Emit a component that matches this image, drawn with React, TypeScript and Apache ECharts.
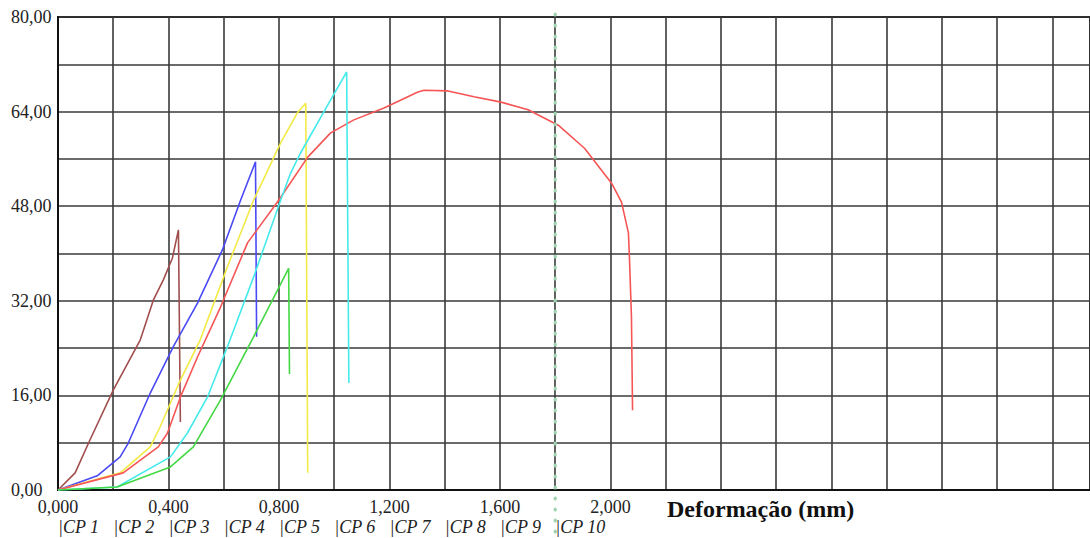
import React, { useEffect, useRef } from "react";
import * as echarts from "echarts";

const cpLabels = ["CP 1", "CP 2", "CP 3", "CP 4", "CP 5", "CP 6", "CP 7", "CP 8", "CP 9", "CP 10"];
const xLabelTicks = [0, 0.4, 0.8, 1.2, 1.6, 2.0];
const yLabelTicks = [0, 16, 32, 48, 64, 80];

const brownData: [number, number][] = [
  [0, 0], [0.062, 2.9], [0.116, 8.5], [0.2, 16.9], [0.298, 25.4], [0.345, 32.1],
  [0.381, 35.5], [0.414, 39.2], [0.436, 44.0], [0.443, 11.5],
];
const blueData: [number, number][] = [
  [0, 0], [0.142, 2.4], [0.225, 5.6], [0.254, 7.9], [0.334, 16.4], [0.417, 24.2],
  [0.505, 31.6], [0.595, 40.6], [0.661, 49.0], [0.715, 55.5], [0.719, 25.9],
];
const yellowData: [number, number][] = [
  [0, 0], [0.225, 2.9], [0.334, 7.3], [0.37, 10.7], [0.443, 18.6], [0.515, 25.4],
  [0.613, 37.7], [0.708, 49.0], [0.806, 58.7], [0.868, 63.9], [0.897, 65.4], [0.904, 2.9],
];
const redData: [number, number][] = [
  [0, 0], [0.236, 2.9], [0.363, 7.3], [0.396, 9.6], [0.443, 15.7], [0.505, 22.5],
  [0.588, 30.9], [0.686, 41.8], [0.799, 49.0], [0.904, 56.3], [0.987, 60.4],
  [1.071, 62.6], [1.18, 64.6], [1.303, 67.3], [1.325, 67.6], [1.412, 67.5],
  [1.506, 66.5], [1.604, 65.6], [1.702, 64.3], [1.811, 61.7], [1.906, 57.8],
  [2.004, 51.9], [2.04, 48.7], [2.065, 43.5], [2.069, 38.9], [2.076, 29.3], [2.08, 13.5],
];
const cyanData: [number, number][] = [
  [0, 0], [0.214, 0.5], [0.407, 5.6], [0.468, 9.6], [0.541, 15.7], [0.613, 24.2],
  [0.708, 36.0], [0.806, 49.0], [0.842, 53.6], [0.878, 57.0], [0.987, 66.0],
  [1.045, 70.7], [1.053, 18.1],
];
const greenData: [number, number][] = [
  [0, 0], [0.214, 0.5], [0.407, 3.9], [0.49, 7.3], [0.588, 15.2], [0.708, 25.9],
  [0.835, 37.5], [0.838, 19.6],
];
const markerX = 1.8;

const serif = '"Liberation Serif", "DejaVu Serif", serif';

export default function App() {
  const ref = useRef<HTMLDivElement>(null);
  useEffect(() => {
    if (!ref.current) return;
    const chart = echarts.init(ref.current, null, { renderer: "svg" });
    const isTick = (v: number, list: number[]) => list.some((t) => Math.abs(t - v) < 1e-6);
    const mkSeries = (name: string, data: [number, number][], color: string) => ({
      name,
      type: "line",
      data,
      showSymbol: false,
      symbol: "none",
      lineStyle: { color, width: 1.6 },
      itemStyle: { color },
      xAxisIndex: 0,
      yAxisIndex: 0,
    });
    chart.setOption({
      animation: false,
      backgroundColor: "#ffffff",
      grid: {
        left: 58, top: 17, right: -3, bottom: 48,
        show: true, borderColor: "#111", borderWidth: 2,
      },
      xAxis: [
        {
          type: "value", min: 0, max: 3.736, interval: 0.2,
          axisLine: { show: true, lineStyle: { color: "#111", width: 2 } },
          axisTick: { show: false },
          splitLine: { show: true, lineStyle: { color: "#3a3a3a", width: 1.6 } },
          axisLabel: {
            show: true, margin: 8, color: "#222", fontFamily: serif, fontSize: 18,
            showMaxLabel: false,
            formatter: (v: number) => (isTick(v, xLabelTicks) ? v.toFixed(3).replace(".", ",") : ""),
          },
        },
        {
          type: "value", min: 0, max: 3.736, interval: 0.2, position: "bottom", offset: 22,
          axisLine: { show: false }, axisTick: { show: false }, splitLine: { show: false },
          axisLabel: {
            show: true, margin: 6, align: "left", color: "#222", fontFamily: serif,
            fontSize: 18, fontStyle: "italic", showMaxLabel: false,
            formatter: (v: number) => {
              const i = Math.round(v / 0.2);
              return Math.abs(i * 0.2 - v) < 1e-6 && i < cpLabels.length ? "|" + cpLabels[i] : "";
            },
          },
        },
      ],
      yAxis: {
        type: "value", min: 0, max: 80, interval: 8,
        axisLine: { show: true, lineStyle: { color: "#111", width: 2 } },
        axisTick: { show: false },
        splitLine: { show: true, lineStyle: { color: "#3a3a3a", width: 1.6 } },
        axisLabel: {
          show: true, margin: 47, align: "left", color: "#222", fontFamily: serif, fontSize: 18,
          formatter: (v: number) => (isTick(v, yLabelTicks) ? v.toFixed(2).replace(".", ",") : ""),
        },
      },
      series: [
        mkSeries("CP 1", brownData, "#a04e4e"),
        mkSeries("CP 2", blueData, "#4a4af5"),
        mkSeries("CP 3", yellowData, "#f2ea46"),
        mkSeries("CP 4", redData, "#f55555"),
        mkSeries("CP 5", cyanData, "#45eaea"),
        mkSeries("CP 6", greenData, "#45d845"),
      ],
    });
    const top = chart.convertToPixel({ xAxisIndex: 0, yAxisIndex: 0 }, [markerX, 80]);
    const bot = chart.convertToPixel({ xAxisIndex: 0, yAxisIndex: 0 }, [markerX, 0]);
    chart.setOption({
      graphic: [
        {
          type: "line",
          shape: { x1: top[0], y1: top[1] - 3, x2: bot[0], y2: bot[1] + 50 },
          style: { stroke: "#9fd3b0", lineWidth: 3.2, lineDash: [1, 10], lineCap: "round" },
          z: 10,
        },
        {
          type: "text",
          left: 667,
          top: 497,
          style: {
            text: "Deformação (mm)",
            font: `bold 24px ${serif}`,
            fill: "#111",
          },
        },
      ],
    });
    return () => chart.dispose();
  }, []);
  return <div ref={ref} style={{ width: 1090, height: 538, position: "absolute", left: 0, top: 0 }} />;
}
